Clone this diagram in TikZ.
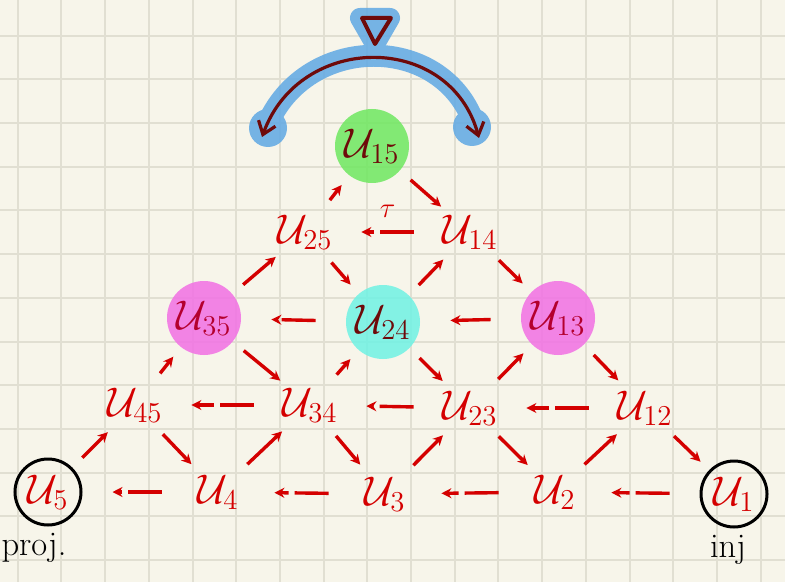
\documentclass[tikz,border=0pt]{standalone}
\usetikzlibrary{arrows.meta}

\definecolor{paper}{HTML}{F7F5EA}
\definecolor{gridline}{HTML}{E1DFD2}
\definecolor{ink}{HTML}{D40000}
\definecolor{darkink}{HTML}{6E0A0A}
\definecolor{pinkink}{HTML}{B4002E}
\definecolor{hlgreen}{HTML}{6EE860}
\definecolor{hlcyan}{HTML}{6FF2E4}
\definecolor{hlpink}{HTML}{F270E4}
\definecolor{hlblue}{HTML}{5FA8E4}

\tikzset{
  modulo/.style={circle, inner sep=-5pt, minimum size=26pt, text=ink, font=\huge},
  evidenza/.style={modulo, minimum size=37pt, fill=#1, fill opacity=0.85, text opacity=1},
  estremo/.style={modulo, draw=black, line width=1.5pt, minimum size=33pt},
  irr/.style={ink, line width=1.7pt, -{Stealth[length=5pt,width=5pt]}, shorten <=7pt, shorten >=6pt},
  traslato/.style={irr, shorten <=15pt, shorten >=15pt, dash pattern=on 17pt off 3pt on 30pt},
}

\begin{document}
\begin{tikzpicture}[x=0.5pt, y=-0.5pt]
    \useasboundingbox (0,0) rectangle (785,582);
    % Carta a quadretti
    \fill[paper] (0,0) rectangle (785,582);
    \foreach \gx in {0,...,17}
        \draw[gridline, line width=1pt] ({17.7+43.7*\gx},0) -- ({17.7+43.7*\gx},582);
    \foreach \gy in {0,...,12}
        \draw[gridline, line width=1pt] (0,{35.7+43.7*\gy}) -- (785,{35.7+43.7*\gy});

    % Evidenziatore blu in alto
    \begin{scope}[transparency group, opacity=0.85]
        \draw[hlblue, line width=11pt, line cap=round] (264,133) .. controls (300,30) and (450,30) .. (477,133);
        \filldraw[hlblue, line width=10pt, line join=round] (360,18) -- (390,18) -- (375,44) -- cycle;
        \fill[hlblue] (268,128) circle (19);
        \fill[hlblue] (472,127) circle (19);
    \end{scope}

    % Triangolo e freccia curva
    \draw[darkink, line width=2pt, line join=round] (362,18) -- (391,18) -- (375,44) -- cycle;
    \draw[darkink, line width=1.6pt, {Straight Barb[length=6pt,width=9pt]}-{Straight Barb[length=6pt,width=9pt]}]
        (262,137) .. controls (300,32) and (450,32) .. (479,138);

    % Moduli indecomponibili
    \node[evidenza=hlgreen, text=darkink] (u15) at (372,146) {$\mathcal{U}_{15}$};
    \node[modulo] (u25) at (305,232) {$\mathcal{U}_{25}$};
    \node[modulo] (u14) at (470,232) {$\mathcal{U}_{14}$};
    \node[evidenza=hlpink, text=pinkink] (u35) at (204,318) {$\mathcal{U}_{35}$};
    \node[evidenza=hlcyan, text=darkink] (u24) at (383,322) {$\mathcal{U}_{24}$};
    \node[evidenza=hlpink, text=pinkink] (u13) at (558,318) {$\mathcal{U}_{13}$};
    \node[modulo] (u45) at (135,405) {$\mathcal{U}_{45}$};
    \node[modulo] (u34) at (310,405) {$\mathcal{U}_{34}$};
    \node[modulo] (u23) at (470,408) {$\mathcal{U}_{23}$};
    \node[modulo] (u12) at (645,408) {$\mathcal{U}_{12}$};
    \node[estremo] (u5) at (48,492) {$\mathcal{U}_{5}$};
    \node[modulo] (u4) at (218,492) {$\mathcal{U}_{4}$};
    \node[modulo] (u3) at (385,494) {$\mathcal{U}_{3}$};
    \node[modulo] (u2) at (555,492) {$\mathcal{U}_{2}$};
    \node[estremo] (u1) at (734,494) {$\mathcal{U}_{1}$};

    % Proiettivo e iniettivo
    \node[font=\LARGE] (proj) at (34,548) {proj.};
    \node[font=\LARGE] (inj) at (728,550) {inj};

    % Frecce irriducibili
    \foreach \a/\b in {u25/u15, u35/u25, u24/u14, u45/u35, u34/u24, u23/u13,
                       u5/u45, u4/u34, u3/u23, u2/u12,
                       u15/u14, u25/u24, u14/u13, u35/u34, u24/u23, u13/u12,
                       u45/u4, u34/u3, u23/u2, u12/u1}
        \draw[irr] (\a) -- (\b);

    % Traslazione di Auslander-Reiten
    \draw[traslato] (u14) -- (u25) node[midway, above=3pt, text=ink, font=\Large] {$\tau$};
    \foreach \a/\b in {u13/u24, u24/u35, u12/u23, u23/u34, u34/u45,
                       u1/u2, u2/u3, u3/u4, u4/u5}
        \draw[traslato] (\a) -- (\b);
\end{tikzpicture}
\end{document}
